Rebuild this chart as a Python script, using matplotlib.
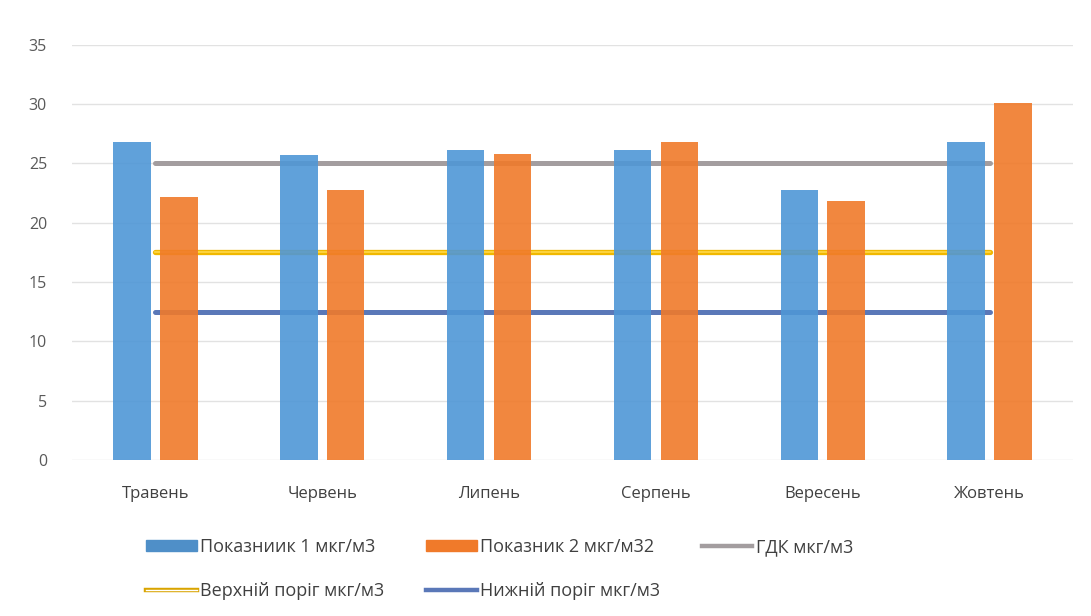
import matplotlib.pyplot as plt
import numpy as np
from matplotlib.lines import Line2D
from matplotlib.patches import Patch

plt.rcParams['font.family'] = ['Open Sans', 'DejaVu Sans']

# дані по місяцях
months = ['Травень', 'Червень', 'Липень', 'Серпень', 'Вересень', 'Жовтень']
pokaznyk1 = [26.8, 25.7, 26.1, 26.1, 22.8, 26.8]
pokaznyk2 = [22.2, 22.8, 25.8, 26.8, 21.8, 30.1]
gdk = [25, 25, 25, 25, 25, 25]
verkh_porig = [17.5, 17.5, 17.5, 17.5, 17.5, 17.5]
nyzh_porig = [12.5, 12.5, 12.5, 12.5, 12.5, 12.5]

fig = plt.figure(figsize=(10.91, 6.16), dpi=100)
ax = fig.add_axes([0.066, 0.2532, 0.9175, 0.674])

x = np.arange(len(months))
w = 0.225
off = 0.14

# лінії порогів
ax.plot(x, gdk, color='#a39d9f', lw=3.6, solid_capstyle='round', zorder=2)
ax.plot(x, verkh_porig, color='#f0b800', lw=3.8, solid_capstyle='round', zorder=2)
ax.plot(x, verkh_porig, color='#ffd84a', lw=1.2, zorder=2.1)
ax.plot(x, nyzh_porig, color='#5a78b8', lw=3.6, solid_capstyle='round', zorder=2)

ax.bar(x - off, pokaznyk1, w, color='#4f97d6', alpha=0.9, zorder=3)
ax.bar(x + off, pokaznyk2, w, color='#f07a2a', alpha=0.9, zorder=3)

ax.set_xlim(-0.5, 5.5)
ax.set_ylim(0, 35)
ax.set_yticks(range(0, 36, 5))
ax.set_xticks(x)
ax.set_xticklabels(months)
ax.tick_params(axis='y', length=0, pad=18, labelsize=11.5, labelcolor='#595959')
ax.tick_params(axis='x', length=0, pad=19, labelsize=12, labelcolor='#404040')
ax.grid(axis='y', color='#e2e2e2', lw=1, zorder=0)
ax.set_axisbelow(True)
for s in ax.spines.values():
    s.set_visible(False)

# подвійна лінія для верхнього порогу в легенді
h_verkh = (Line2D([], [], color='#d9a400', lw=3.2),
           Line2D([], [], color='white', lw=1.0))
handles = [Patch(color='#4f8fc8'), h_verkh,
           Patch(color='#f07a2a'), Line2D([], [], color='#5a78b8', lw=3.2),
           Line2D([], [], color='#a39d9f', lw=3.2)]
labels = ['Показниик 1 мкг/м3', 'Верхній поріг мкг/м3',
          'Показник 2 мкг/м32', 'Нижній поріг мкг/м3',
          'ГДК мкг/м3']
fig.legend(handles, labels, loc='upper left', bbox_to_anchor=(0.119, 0.153),
           ncol=3, frameon=False, fontsize=13, labelcolor='#404040',
           handlelength=2.8, handleheight=0.5, handletextpad=0.2,
           columnspacing=2.3, labelspacing=1.45)

fig.savefig('out.png', dpi=100)
